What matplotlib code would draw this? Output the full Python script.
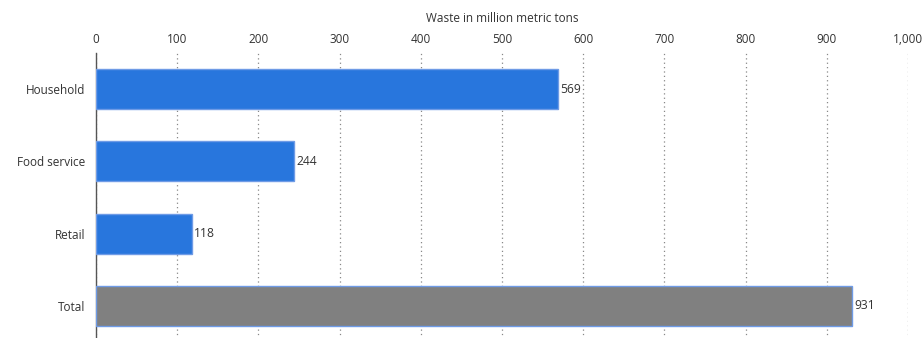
import matplotlib
matplotlib.use("Agg")
import matplotlib.pyplot as plt

categories = ["Household", "Food service", "Retail", "Total"]
values = [569, 244, 118, 931]
labels = ["569", "244", "118", "931"]
colors = ["#2876dd", "#2876dd", "#2876dd", "#808080"]
xticks = [0, 100, 200, 300, 400, 500, 600, 700, 800, 900, 1000]
xticklabels = ["0", "100", "200", "300", "400", "500", "600", "700", "800", "900", "1,000"]

plt.rcParams['font.family'] = ['Open Sans', 'DejaVu Sans']

fig = plt.figure(figsize=(9.23, 3.38), dpi=100)
ax = fig.add_axes([96/923, 1 - 342/338, (908-96)/923, (342-53)/338])

y = list(range(len(categories)))
ax.barh(y, values, height=0.555, color=colors, edgecolor="#6f9be6", linewidth=1.0, zorder=3)
for yi, v, lab in zip(y, values, labels):
    ax.text(v + 3, yi, lab, va="center", ha="left", fontsize=8.7, color="#333333", zorder=4)

ax.set_ylim(3.5, -0.5)
ax.set_xlim(0, 1000)
ax.set_yticks(y)
ax.set_yticklabels(categories, fontsize=8.5, color="#333333")
ax.set_xticks(xticks)
ax.set_xticklabels(xticklabels, fontsize=8.5, color="#333333")
ax.xaxis.tick_top()
ax.xaxis.set_label_position("top")
ax.set_xlabel("Waste in million metric tons", fontsize=8.5, color="#333333", labelpad=8)
ax.tick_params(axis="x", length=0, pad=5)
ax.tick_params(axis="y", length=0, pad=8)
ax.grid(axis="x", linestyle=(0, (1, 2.5)), color="#888888", linewidth=0.9, zorder=0)
for s in ["top", "right", "bottom"]:
    ax.spines[s].set_visible(False)
ax.spines["left"].set_color("#555555")
ax.spines["left"].set_linewidth(1.0)
ax.set_facecolor("white")

fig.savefig("out.png", dpi=100, facecolor="white")
